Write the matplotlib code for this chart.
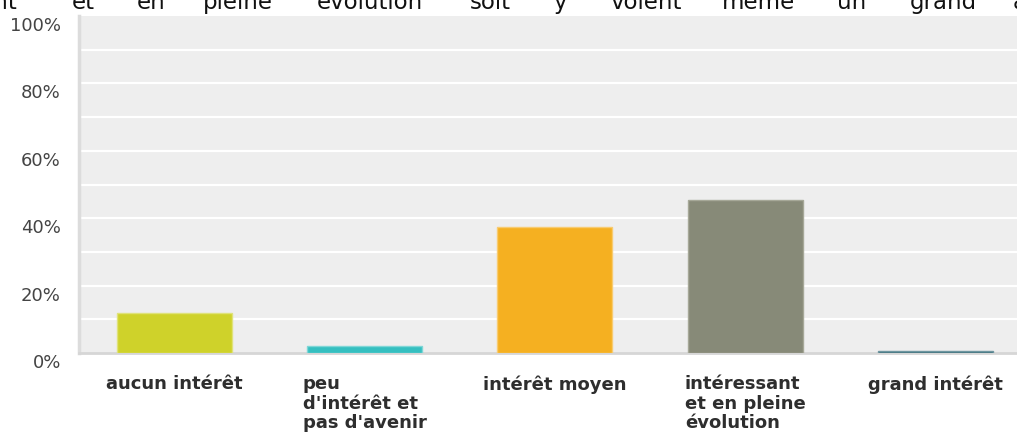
import matplotlib.pyplot as plt
import matplotlib.transforms as mtransforms

# données du graphique
categories = ["aucun intérêt",
              "peu\nd'intérêt et\npas d'avenir",
              "intérêt moyen",
              "intéressant\net en pleine\névolution",
              "grand intérêt"]
values = [12.0, 2.2, 37.5, 45.5, 0.6]
colors = ["#cfd22a", "#35bfc0", "#f5b021", "#878a78", "#3a6d7a"]
edge_colors = ["#dfe27a", "#7fd6d6", "#f8cb70", "#a6a898", "#6f96a0"]
y_ticks = [0, 20, 40, 60, 80, 100]
y_tick_labels = ["0%", "20%", "40%", "60%", "80%", "100%"]

# ligne de texte coupée en haut (document d'origine)
top_words = ["int", "et", "en", "pleine", "évolution", "soit", "y", "voient", "même", "un", "grand", "à"]
top_word_x = [-12, 72, 137, 203, 317, 470, 553, 610, 722, 837, 910, 1013]

W, H = 1017, 437
fig = plt.figure(figsize=(W / 100, H / 100), dpi=100)
ax = fig.add_axes([79 / W, 1 - 353 / H, (W - 79) / W, (353 - 16) / H])
ax.set_facecolor("#eeeeee")

x = list(range(len(categories)))
ax.bar(x, values, width=0.604, color=colors, edgecolor=edge_colors, linewidth=1, zorder=3)

ax.set_xlim(-0.5, 4.428)
ax.set_ylim(0, 100)

# grille blanche tous les 10 %
for g in range(10, 100, 10):
    ax.axhline(g, color="white", lw=1.6, zorder=1)

for s in ["top", "right"]:
    ax.spines[s].set_visible(False)
ax.spines["left"].set_color("#dcdcdc")
ax.spines["left"].set_linewidth(2.5)
ax.spines["bottom"].set_color("#d6d6d6")
ax.spines["bottom"].set_linewidth(2)

ax.set_xticks([])
ax.set_yticks(y_ticks)
ax.set_yticklabels(y_tick_labels, fontsize=13, color="#444444", family="DejaVu Sans")
ax.tick_params(axis="y", length=0, pad=13)
offset = mtransforms.ScaledTranslation(0, -8 / 100, fig.dpi_scale_trans)
for lab in ax.get_yticklabels():
    lab.set_transform(lab.get_transform() + offset)

# étiquettes des catégories
for i, cat in enumerate(categories):
    ax.annotate(cat, xy=(i, 0), xycoords="data", xytext=(0, -22), textcoords="offset pixels",
                ha="center", va="top", multialignment="left", fontsize=13, fontweight="bold",
                color="#2e2e2e", linespacing=1.12, family="DejaVu Sans", annotation_clip=False)

# texte du document au-dessus, coupé
for w, px in zip(top_words, top_word_x):
    fig.text(px / W, 1 - 9 / H, w, fontsize=16.5, color="#111111", va="baseline", ha="left",
             family="DejaVu Sans")

fig.savefig("out.png", dpi=100)
